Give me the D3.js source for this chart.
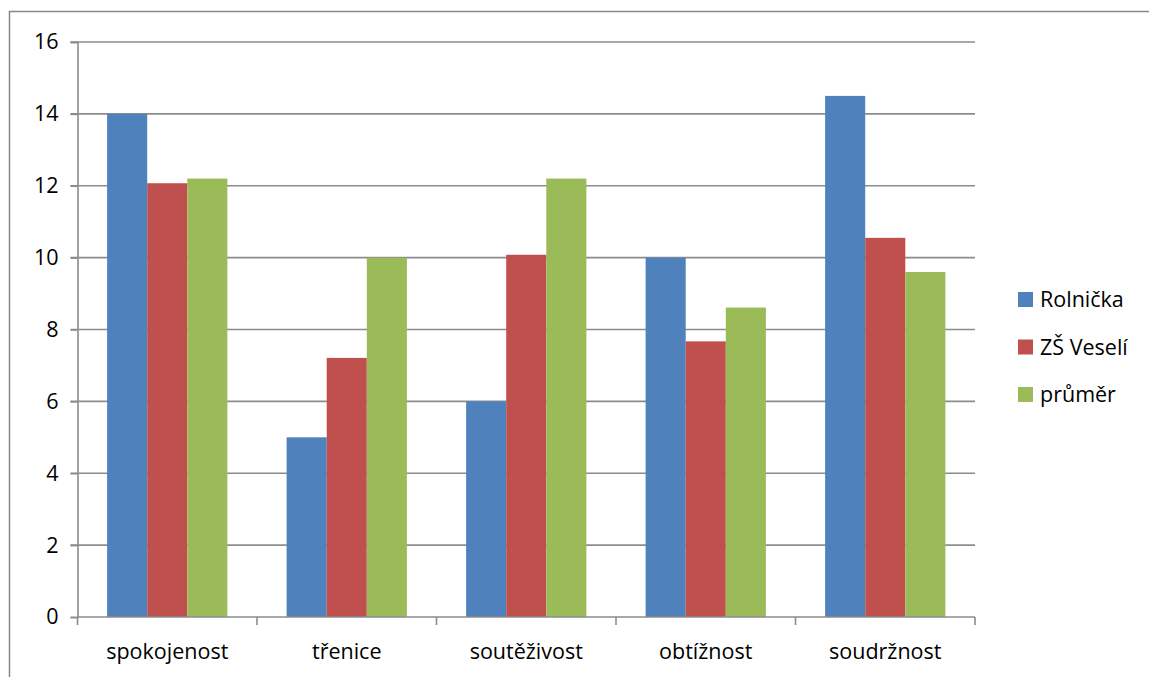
<!DOCTYPE html>
<html>
<head>
<meta charset="utf-8">
<script src="https://cdn.jsdelivr.net/npm/d3@7"></script>
<style>
  html, body { margin: 0; padding: 0; background: #fff; }
  svg { display: block; }
  text { font-family: "Open Sans", "Noto Sans", sans-serif; fill: #000; }
</style>
</head>
<body>
<svg id="chart" width="1149" height="677"></svg>
<script>
const categories = ["spokojenost", "třenice", "soutěživost", "obtížnost", "soudržnost"];
const seriesNames = ["Rolnička", "ZŠ Veselí", "průměr"];
const rolnicka = [14, 5, 6, 10, 14.5];
const zsVeseli = [12.07, 7.21, 10.08, 7.67, 10.55];
const prumer = [12.2, 10, 12.2, 8.61, 9.6];
const yTicks = [0, 2, 4, 6, 8, 10, 12, 14, 16];
const colors = ["#4F81BD", "#C0504D", "#9BBB59"];

const seriesValues = [rolnicka, zsVeseli, prumer];
const FONT = 21.5;

const svg = d3.select("#chart");

// outer chart frame
svg.append("rect")
  .attr("x", 9.5).attr("y", 11.5)
  .attr("width", 1200).attr("height", 700)
  .attr("fill", "none").attr("stroke", "#878787").attr("stroke-width", 1.5);

const plot = { left: 77.5, right: 975, top: 42, bottom: 617 };

const y = d3.scaleLinear().domain([0, 16]).range([plot.bottom, plot.top]);
const x0 = d3.scaleBand().domain(categories)
  .range([plot.left, plot.right]).paddingInner(0.33).paddingOuter(0.165);
const x1 = d3.scaleBand().domain(seriesNames).range([0, x0.bandwidth()]);

// horizontal gridlines
svg.append("g")
  .selectAll("line")
  .data(yTicks.filter(d => d > 0))
  .join("line")
  .attr("x1", plot.left - 7).attr("x2", plot.right)
  .attr("y1", d => y(d)).attr("y2", d => y(d))
  .attr("stroke", "#8c8c8c").attr("stroke-width", 1.6);

// bars
const groups = svg.append("g")
  .selectAll("g")
  .data(categories)
  .join("g")
  .attr("transform", d => `translate(${x0(d)},0)`);

groups.selectAll("rect")
  .data((c, i) => seriesNames.map((s, k) => ({ s, v: seriesValues[k][i], k })))
  .join("rect")
  .attr("x", d => x1(d.s))
  .attr("width", x1.bandwidth())
  .attr("y", d => y(d.v))
  .attr("height", d => y(0) - y(d.v))
  .attr("fill", d => colors[d.k]);

// y axis
const yAxis = svg.append("g")
  .attr("transform", `translate(${plot.left},0)`)
  .call(d3.axisLeft(y).tickValues(yTicks).tickSize(7).tickPadding(12).tickFormat(d3.format("d")));
yAxis.select(".domain").attr("stroke", "#8c8c8c").attr("stroke-width", 1.6);
yAxis.selectAll(".tick line").attr("stroke", "#8c8c8c").attr("stroke-width", 1.6);
yAxis.selectAll(".tick text")
  .attr("font-size", FONT)
  .attr("font-family", "'Open Sans', 'Noto Sans', sans-serif")
  .attr("fill", "#000");

// x axis
const tickPositions = categories.map(c => x0(c) - x0.step() * x0.paddingInner() / 2)
  .concat([plot.right]);
const xAxisG = svg.append("g");
xAxisG.append("line")
  .attr("x1", plot.left).attr("x2", plot.right)
  .attr("y1", plot.bottom).attr("y2", plot.bottom)
  .attr("stroke", "#8c8c8c").attr("stroke-width", 1.6);
xAxisG.selectAll("line.tick")
  .data(tickPositions)
  .join("line")
  .attr("class", "tick")
  .attr("x1", d => d).attr("x2", d => d)
  .attr("y1", plot.bottom).attr("y2", plot.bottom + 8)
  .attr("stroke", "#8c8c8c").attr("stroke-width", 1.6);
xAxisG.selectAll("text")
  .data(categories)
  .join("text")
  .attr("x", d => x0(d) + x0.bandwidth() / 2)
  .attr("y", 659)
  .attr("text-anchor", "middle")
  .attr("font-size", FONT)
  .text(d => d);

// legend
const legend = svg.append("g")
  .selectAll("g")
  .data(seriesNames)
  .join("g")
  .attr("transform", (d, i) => `translate(1018,${299 + i * 47.5})`);
legend.append("rect")
  .attr("x", 0).attr("y", -7)
  .attr("width", 15).attr("height", 15)
  .attr("fill", (d, i) => colors[i]);
legend.append("text")
  .attr("x", 22).attr("y", 8)
  .attr("font-size", FONT)
  .text(d => d);
</script>
</body>
</html>
